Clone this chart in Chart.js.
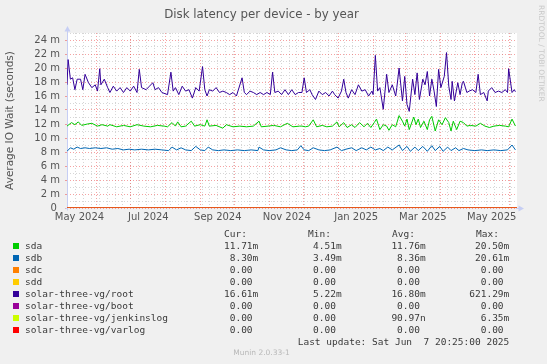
<!DOCTYPE html>
<html>
<head>
<meta charset="utf-8">
<title>Disk latency per device - by year</title>
<script src="https://cdn.jsdelivr.net/npm/chart.js@4.4.1/dist/chart.umd.min.js"></script>
<style>
body { margin: 0; background: #f0f0f0; }
#wrap { position: relative; width: 547px; height: 364px; overflow: hidden; font-family: "DejaVu Sans", sans-serif; }
#chart { position: absolute; left: 0; top: 0; }
.txt { position: absolute; white-space: pre; }
#title { left: 261.5px; top: 7px; transform: translateX(-50%); font-size: 11.8px; line-height: 14px; color: #555; }
#rrd { left: 537px; top: 5px; writing-mode: vertical-rl; font-size: 7.5px; line-height: 8px; color: #c8c8c8; }
.mono { font-family: "DejaVu Sans Mono", monospace; font-size: 9.5px; line-height: 12px; height: 12px; color: #3a3a3a; }
.sw { position: absolute; width: 6px; height: 6px; }
#munin { left: 261.5px; top: 348px; transform: translateX(-50%); font-size: 7.5px; line-height: 9px; color: #b8b8b8; }
</style>
</head>
<body>
<div id="wrap">
  <canvas id="chart" width="547" height="364"></canvas>
  <div id="title" class="txt">Disk latency per device - by year</div>
  <div id="rrd" class="txt">RRDTOOL / TOBI OETIKER</div>
  <div id="legend"></div>
  <div id="munin" class="txt">Munin 2.0.33-1</div>
</div>
<script>
// graph spans 398.4 days ending Sat Jun 7 2025 20:25
const START = Date.UTC(2024, 4, 5, 10, 49);
const SPAN = 398.4;
const DAY = 864e5;

const seriesNames = ['sda', 'sdb', 'sdc', 'sdd', 'solar-three-vg/root', 'solar-three-vg/boot', 'solar-three-vg/jenkinslog', 'solar-three-vg/varlog'];
const seriesColors = ['#00cc00', '#0066b3', '#ff8000', '#ffcc00', '#330099', '#990099', '#ccff00', '#ff0000'];

const curVals = ['11.71m', '8.30m', '0.00 ', '0.00 ', '16.61m', '0.00 ', '0.00 ', '0.00 '];
const minVals = ['4.51m', '3.49m', '0.00 ', '0.00 ', '5.22m', '0.00 ', '0.00 ', '0.00 '];
const avgVals = ['11.76m', '8.36m', '0.00 ', '0.00 ', '16.80m', '0.00 ', '90.97n', '0.00 '];
const maxVals = ['20.50m', '20.61m', '0.00 ', '0.00 ', '621.29m', '0.00 ', '6.35m', '0.00 '];

// x tick labels (year, month index)
const labelMonths = [[2024, 4], [2024, 6], [2024, 8], [2024, 10], [2025, 0], [2025, 2], [2025, 4]];
const tickLabels = ['May 2024', 'Jul 2024', 'Sep 2024', 'Nov 2024', 'Jan 2025', 'Mar 2025', 'May 2025'];

// values in milliseconds, x = days since START
const sdaDays = [
  0, 4, 7, 10, 13, 18, 22, 27, 31, 36,
  38, 44, 50, 56, 62, 68, 74, 80, 86, 89,
  93, 96, 98, 101, 105, 110, 113, 118, 122, 124,
  126, 132, 138, 141, 147, 153, 159, 165, 170, 172,
  178, 183, 189, 195, 200, 206, 208, 211, 214, 218,
  221, 226, 230, 235, 239, 241, 245, 248, 252, 255,
  259, 263, 266, 269, 272, 274, 277, 280, 283, 285,
  288, 291, 294, 297, 299, 301, 303, 307, 309, 311,
  313, 316, 319, 321, 323, 326, 329, 332, 335, 338,
  340, 342, 345, 348, 351, 354, 357, 362, 366, 370,
  374, 378, 383, 388, 391, 394, 397];
const sdaVals = [
  11.7, 12.2, 11.9, 12.3, 11.8, 12.0, 12.1, 11.7, 11.9, 11.7,
  11.9, 11.6, 11.8, 11.6, 11.9, 11.7, 11.6, 11.8, 11.7, 11.6,
  12.2, 11.7, 12.3, 11.6, 11.7, 12.4, 11.7, 11.9, 11.7, 12.6,
  11.7, 11.8, 11.4, 11.9, 11.6, 11.7, 11.6, 11.7, 12.4, 11.6,
  11.7, 11.8, 11.6, 12.1, 11.6, 11.7, 11.7, 11.6, 11.7, 12.6,
  11.6, 11.8, 11.6, 11.7, 12.3, 11.6, 12.2, 11.5, 11.9, 11.5,
  12.2, 11.6, 12.1, 11.5, 12.2, 12.7, 11.2, 11.9, 11.7, 11.1,
  11.9, 11.6, 13.2, 12.4, 11.7, 12.7, 11.2, 13.0, 11.9, 12.7,
  11.5, 12.4, 11.2, 12.6, 13.1, 11.0, 12.6, 11.9, 12.9, 12.2,
  11.0, 12.4, 11.2, 12.4, 12.2, 11.7, 11.8, 11.7, 12.1, 11.7,
  11.5, 11.7, 11.8, 11.7, 11.6, 12.7, 11.71];

const sdbDays = [
  0, 3, 6, 9, 12, 16, 20, 25, 30, 35,
  40, 45, 50, 55, 60, 66, 72, 78, 84, 90,
  93, 97, 101, 105, 110, 114, 118, 122, 125, 129,
  134, 139, 145, 151, 157, 163, 169, 170, 174, 179,
  185, 189, 194, 199, 204, 207, 210, 214, 218, 223,
  228, 233, 239, 243, 247, 252, 256, 261, 265, 269,
  273, 277, 280, 284, 288, 294, 297, 301, 304, 308,
  311, 315, 319, 323, 326, 330, 333, 337, 340, 344,
  347, 351, 355, 361, 367, 372, 378, 384, 390, 394,
  397];
const sdbVals = [
  8.1, 8.6, 8.4, 8.7, 8.5, 8.6, 8.5, 8.6, 8.5, 8.6,
  8.4, 8.5, 8.3, 8.4, 8.3, 8.4, 8.3, 8.4, 8.3, 8.2,
  8.7, 8.3, 8.6, 8.3, 8.2, 8.8, 8.3, 8.2, 8.7, 8.3,
  8.2, 8.3, 8.2, 8.3, 8.2, 8.3, 8.2, 8.7, 8.3, 8.2,
  8.3, 8.6, 8.3, 8.2, 8.3, 8.9, 8.3, 8.2, 8.6, 8.3,
  8.2, 8.3, 8.7, 8.2, 8.4, 8.6, 8.2, 8.6, 8.3, 8.7,
  8.3, 8.5, 8.2, 8.7, 8.3, 9.0, 8.2, 8.8, 8.1, 8.7,
  8.2, 8.8, 8.1, 8.9, 8.2, 8.8, 8.1, 8.7, 8.2, 8.6,
  8.2, 8.5, 8.3, 8.2, 8.3, 8.2, 8.3, 8.2, 8.3, 9.0,
  8.3];

const rootDays = [
  0, 1, 3, 5, 7, 9, 12, 14, 16, 19,
  22, 25, 27, 29, 30, 33, 36, 38, 41, 44,
  47, 50, 53, 56, 59, 62, 64, 66, 70, 73,
  76, 78, 81, 84, 89, 92, 94, 96, 99, 102,
  105, 108, 111, 114, 117, 120, 122, 124, 126, 129,
  132, 135, 138, 141, 144, 147, 150, 155, 157, 159,
  162, 165, 168, 171, 174, 177, 180, 182, 184, 187,
  190, 193, 196, 199, 202, 205, 208, 210, 212, 215,
  217, 220, 223, 226, 229, 232, 235, 237, 240, 243,
  245, 247, 249, 252, 255, 258, 261, 264, 267, 270,
  271, 273, 275, 277, 280, 283, 285, 288, 291, 292,
  294, 297, 299, 301, 303, 306, 308, 310, 312, 315,
  317, 319, 321, 323, 325, 327, 329, 331, 334, 336,
  338, 340, 341, 343, 346, 348, 350, 351, 354, 356,
  359, 362, 364, 366, 369, 372, 373, 376, 379, 382,
  385, 388, 390, 391, 394, 396, 397];
const rootVals = [
  17.6, 21.2, 18.4, 18.6, 16.9, 18.4, 18.4, 16.9, 19.1, 17.9,
  17.2, 17.6, 16.7, 19.9, 17.6, 18.4, 17.2, 16.5, 17.4, 16.7,
  17.2, 16.5, 17.2, 16.7, 17.4, 16.5, 19.8, 17.2, 16.9, 17.4,
  17.9, 16.9, 17.2, 16.5, 16.2, 19.4, 16.7, 17.2, 16.2, 17.4,
  16.7, 16.9, 15.7, 17.2, 16.7, 20.2, 16.9, 16.0, 16.9, 16.7,
  17.2, 16.5, 16.7, 16.5, 16.2, 16.5, 16.0, 18.6, 16.5, 16.2,
  16.7, 16.5, 16.2, 16.5, 16.2, 16.5, 16.2, 19.4, 16.5, 16.7,
  16.2, 16.9, 16.2, 16.9, 16.2, 16.5, 16.5, 18.6, 16.5, 16.9,
  16.2, 15.5, 16.7, 16.2, 16.5, 16.0, 16.7, 16.2, 15.7, 16.7,
  18.4, 16.5, 15.7, 16.9, 16.2, 17.6, 16.7, 16.9, 16.0, 16.7,
  16.2, 21.8, 16.7, 17.2, 14.1, 19.1, 16.5, 17.6, 16.0, 17.2,
  20.0, 15.3, 18.8, 14.8, 13.8, 18.4, 16.2, 19.3, 15.5, 18.4,
  17.6, 19.5, 16.0, 18.4, 16.7, 14.5, 19.8, 17.2, 18.8, 22.2,
  17.4, 15.5, 18.1, 15.3, 17.9, 16.2, 17.9, 18.1, 16.5, 16.7,
  16.9, 16.5, 19.1, 16.2, 16.5, 15.3, 16.7, 17.2, 16.5, 16.7,
  16.5, 16.9, 16.5, 19.9, 16.5, 16.9, 16.61];

// series that stay at zero all year
const flatDays = [0, SPAN];
const flatVals = [0, 0];

function pts(days, vals) {
  return days.map((d, i) => ({ x: d, y: vals[i] }));
}

const seriesData = [
  pts(sdaDays, sdaVals), pts(sdbDays, sdbVals),
  pts(flatDays, flatVals), pts(flatDays, flatVals),
  pts(rootDays, rootVals),
  pts(flatDays, flatVals), pts(flatDays, flatVals), pts(flatDays, flatVals)
];

// x ticks: weekly minor grid, month starts, label positions
const toDay = t => (t - START) / DAY;
const xTicks = [];
for (let d = toDay(Date.UTC(2024, 4, 6)); d < SPAN; d += 7) xTicks.push({ value: d, kind: 'minor', label: '' });
for (let m = 5; m <= 17; m++) {
  const d = toDay(Date.UTC(2024, m, 1));
  if (d > 0 && d < SPAN) xTicks.push({ value: d, kind: 'major', label: '' });
}
labelMonths.forEach(([y, m], i) => {
  const a = Date.UTC(y, m, 1), b = Date.UTC(y, m + 1, 1);
  xTicks.push({ value: toDay((a + b) / 2), kind: 'label', label: tickLabels[i] });
});
xTicks.sort((a, b) => a.value - b.value);

const MINOR = '#d6d6d6';
const MAJOR = 'rgba(235,70,70,0.5)';
const tickFont = { family: 'DejaVu Sans', size: 10 };

const muninFrame = {
  id: 'muninFrame',
  beforeDraw(chart) {
    const a = chart.chartArea, c = chart.ctx;
    c.save();
    c.fillStyle = '#ffffff';
    c.fillRect(a.left, a.top, a.right - a.left, a.bottom - a.top);
    c.restore();
  },
  beforeDatasetsDraw(chart) {
    const a = chart.chartArea, c = chart.ctx;
    const x0 = Math.round(a.left) + 0.5, y0 = Math.round(a.bottom) + 0.5;
    c.save();
    c.strokeStyle = '#c6cef4';
    c.fillStyle = '#c6cef4';
    c.lineWidth = 1;
    c.beginPath();
    c.moveTo(x0, y0 + 2); c.lineTo(x0, a.top - 2);
    c.moveTo(x0 - 2, y0); c.lineTo(x0, y0);
    c.moveTo(a.right - 1, y0); c.lineTo(a.right + 2, y0);
    c.stroke();
    c.beginPath();
    c.moveTo(x0 - 3, a.top - 1.5); c.lineTo(x0 + 3, a.top - 1.5); c.lineTo(x0, a.top - 7);
    c.fill();
    c.beginPath();
    c.moveTo(a.right + 1.5, y0 - 3); c.lineTo(a.right + 1.5, y0 + 3); c.lineTo(a.right + 7, y0);
    c.fill();
    c.restore();
  }
};

new Chart(document.getElementById('chart'), {
  type: 'line',
  data: {
    datasets: seriesNames.map((name, i) => ({
      label: name,
      data: seriesData[i],
      borderColor: seriesColors[i],
      backgroundColor: seriesColors[i],
      borderWidth: 1,
      pointRadius: 0,
      tension: 0,
      order: seriesNames.length - i
    }))
  },
  options: {
    responsive: false,
    animation: false,
    devicePixelRatio: 1,
    layout: { padding: { left: 0, right: 30, top: 33, bottom: 0 } },
    plugins: { legend: { display: false }, tooltip: { enabled: false } },
    scales: {
      x: {
        type: 'linear',
        min: 0,
        max: SPAN,
        afterBuildTicks: s => { s.ticks = xTicks.map(t => ({ value: t.value })); },
        afterFit: s => { s.height = 156; },
        ticks: {
          autoSkip: false,
          maxRotation: 0,
          minRotation: 0,
          padding: 3,
          color: '#555',
          font: tickFont,
          callback: (v, i) => xTicks[i] ? xTicks[i].label : ''
        },
        grid: {
          drawTicks: false,
          color: ctx => {
            const t = xTicks[ctx.index];
            if (!t || t.kind === 'label') return 'rgba(0,0,0,0)';
            return t.kind === 'major' ? MAJOR : MINOR;
          }
        },
        border: { display: false, dash: [1, 2] }
      },
      y: {
        min: 0,
        max: 25,
        afterFit: s => { s.width = 67; },
        ticks: {
          stepSize: 1,
          autoSkip: false,
          padding: 5,
          color: '#555',
          font: tickFont,
          callback: v => (v % 2 ? '' : (v ? v + ' m' : '0 '))
        },
        grid: {
          tickLength: 2,
          color: ctx => (ctx.tick && ctx.tick.value % 2 === 0 ? MAJOR : MINOR),
          tickColor: ctx => (ctx.tick && ctx.tick.value % 2 === 0 ? MAJOR : 'rgba(0,0,0,0)')
        },
        border: { display: false, dash: [1, 2] },
        title: {
          display: true,
          text: 'Average IO Wait (seconds)',
          color: '#555',
          font: { family: 'DejaVu Sans', size: 10.5 }
        }
      }
    }
  },
  plugins: [muninFrame]
});

// legend table below the graph, rrdtool style
const legend = document.getElementById('legend');
const colRight = [258.3, 341.7, 425.7, 509.3];
const colHead = ['Cur:', 'Min:', 'Avg:', 'Max:'];
const colStart = [224, 308, 392, 476];
const rowY = i => 233.7 + 12 * i - 6;

function addText(text, left, top, right) {
  const el = document.createElement('div');
  el.className = 'txt mono';
  el.textContent = text;
  el.style.top = top + 'px';
  if (right !== undefined) {
    el.style.right = (547 - right) + 'px';
    el.style.textAlign = 'right';
  } else {
    el.style.left = left + 'px';
  }
  legend.appendChild(el);
}

colHead.forEach((h, c) => addText(h, colStart[c], rowY(0)));
seriesNames.forEach((name, i) => {
  const top = rowY(i + 1);
  const sw = document.createElement('div');
  sw.className = 'sw';
  sw.style.left = '13px';
  sw.style.top = (top + 3) + 'px';
  sw.style.background = seriesColors[i];
  legend.appendChild(sw);
  addText(name, 25, top);
  [curVals, minVals, avgVals, maxVals].forEach((col, c) => addText(col[i], 0, top, colRight[c]));
});
addText('Last update: Sat Jun  7 20:25:00 2025', 0, rowY(9), 509.3);
</script>
</body>
</html>
